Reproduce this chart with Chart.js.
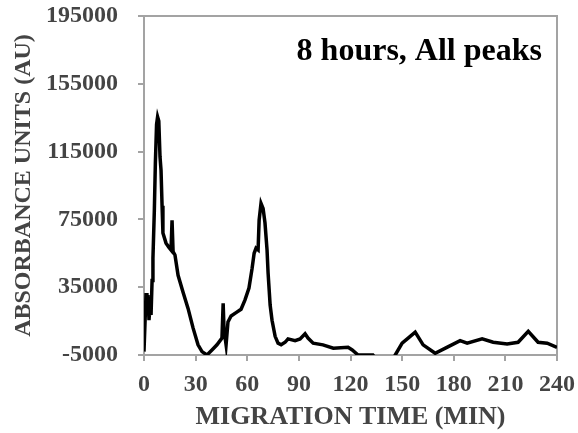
<!DOCTYPE html>
<html>
<head>
<meta charset="utf-8">
<title>Absorbance - 8 hours, all peaks</title>
<script src="https://cdn.jsdelivr.net/npm/chart.js@4/dist/chart.umd.min.js"></script>
<style>
  html, body { margin: 0; padding: 0; background: #fff; }
  canvas { display: block; }
</style>
</head>
<body>
<canvas id="absChart" width="578" height="433"></canvas>
<script>
// migration time (min) and absorbance (AU)
const minutes = [0, 1.2, 1.7, 2.3, 2.9, 3.5, 4.1, 4.7, 5.2, 6.0,
  6.6, 7.3, 7.9, 8.6, 9.3, 9.9, 10.5, 11.0, 12.8, 14.5, 15.7,
  16.3, 16.9, 18.0, 19.8, 22.7, 25.6, 28.5, 31.4, 33.7, 36.6,
  39.5, 42.4, 45.3, 46.0, 46.5, 47.7, 48.8, 50.6, 53.5, 56.4,
  58.7, 61.0, 62.8, 64.0, 65.1, 66.3, 66.9, 68.0, 69.2, 70.3,
  71.5, 72.1, 73.3, 74.4, 76.2, 77.9, 79.7, 82.0, 83.7, 87.8,
  90.7, 93.6, 95.3, 98.3, 104, 110, 118.6, 121, 124.4, 133,
  136, 143, 146, 150, 153.5, 157.6, 162.2, 169.2, 176, 183.7,
  187.8, 196.5, 202.9, 211, 217.4, 223.3, 229, 234.3, 240];
const absorbance = [-3000, 31600, 21500, 30400, 15600, 24500, 18600, 39000, 52000, 80000,
  108000, 131000, 135500, 133000, 112000, 104000, 83000, 67000, 61000, 58500, 57000,
  74500, 56000, 54000, 42000, 32000, 22500, 11000, 1000, -3000, -5000,
  -2000, 1000, 5000, 25500, 10000, 1000, 14500, 18000, 20000, 22000,
  27500, 34500, 46000, 55000, 58000, 57000, 74500, 84500, 81500, 73000,
  57000, 43500, 24500, 15500, 6000, 2000, 1000, 2500, 4500, 3500,
  4500, 7500, 5000, 2000, 1000, -1000, -500, -2000, -5000, -5000,
  -9000, -9000, -5000, 2000, 5000, 8500, 1000, -4000, -500, 3500,
  2000, 4500, 2500, 1500, 2500, 9000, 2500, 2000, -500];

const xTicks = [0, 30, 60, 90, 120, 150, 180, 210, 240];
const yTicks = [-5000, 35000, 75000, 115000, 155000, 195000];
const panelLabel = '8 hours, All peaks';

const serif = '"Liberation Serif", "Times New Roman", serif';
const axisGrey = '#a3a3a3';
const labelGrey = '#444';

// grey box round the plot + the label in the top right corner
const framePlugin = {
  id: 'frame',
  beforeDatasetsDraw(chart) {
    const { ctx, chartArea: a } = chart;
    ctx.save();
    ctx.strokeStyle = axisGrey;
    ctx.lineWidth = 2;
    ctx.beginPath();
    ctx.moveTo(a.left - 6, a.top);
    ctx.lineTo(a.right, a.top);
    ctx.lineTo(a.right, a.bottom + 6);
    ctx.stroke();
    ctx.restore();
  },
  afterDraw(chart) {
    const { ctx, chartArea: a } = chart;
    ctx.save();
    ctx.font = 'bold 32px ' + serif;
    ctx.fillStyle = '#000';
    ctx.textAlign = 'right';
    ctx.textBaseline = 'middle';
    ctx.fillText(panelLabel, a.right - 15, a.top + 36);
    ctx.restore();
  }
};

const points = minutes.map((m, i) => ({ x: m, y: absorbance[i] }));

new Chart(document.getElementById('absChart'), {
  type: 'line',
  data: {
    datasets: [{
      data: points,
      borderColor: '#000',
      borderWidth: 3.5,
      pointRadius: 0,
      tension: 0,
      fill: false
    }]
  },
  options: {
    responsive: false,
    animation: false,
    devicePixelRatio: 1,
    layout: { padding: { top: 16, right: 21, left: 0, bottom: 0 } },
    plugins: { legend: { display: false }, tooltip: { enabled: false } },
    scales: {
      x: {
        type: 'linear',
        min: 0,
        max: 240,
        // fixed size, no extra room for the end labels
        afterFit: s => { s.height = 78; s.paddingLeft = 0; s.paddingRight = 0; },
        afterBuildTicks: s => { s.ticks = xTicks.map(v => ({ value: v })); },
        grid: { drawOnChartArea: false, drawTicks: true, tickLength: 6, color: axisGrey, lineWidth: 2 },
        border: { display: true, color: axisGrey, width: 2 },
        ticks: {
          padding: 9,
          maxRotation: 0,
          autoSkip: false,
          color: labelGrey,
          font: { family: serif, size: 24, weight: 'bold' },
          callback: v => String(v)
        },
        title: {
          display: true,
          text: 'MIGRATION TIME (MIN)',
          color: labelGrey,
          padding: { top: 0, bottom: 0 },
          font: { family: serif, size: 26, weight: 'bold', lineHeight: 1.2 }
        }
      },
      y: {
        type: 'linear',
        min: -5000,
        max: 195000,
        afterFit: s => { s.width = 144; s.paddingTop = 0; s.paddingBottom = 0; },
        afterBuildTicks: s => { s.ticks = yTicks.map(v => ({ value: v })); },
        grid: { drawOnChartArea: false, drawTicks: true, tickLength: 6, color: axisGrey, lineWidth: 2 },
        border: { display: true, color: axisGrey, width: 2 },
        ticks: {
          padding: 20,
          autoSkip: false,
          color: labelGrey,
          font: { family: serif, size: 24, weight: 'bold' },
          callback: v => String(v)
        },
        title: {
          display: true,
          text: 'ABSORBANCE UNITS (AU)',
          color: labelGrey,
          padding: { top: 9, bottom: 0 },
          font: { family: serif, size: 24, weight: 'bold', lineHeight: 1.2 }
        }
      }
    }
  },
  plugins: [framePlugin]
});
</script>
</body>
</html>
